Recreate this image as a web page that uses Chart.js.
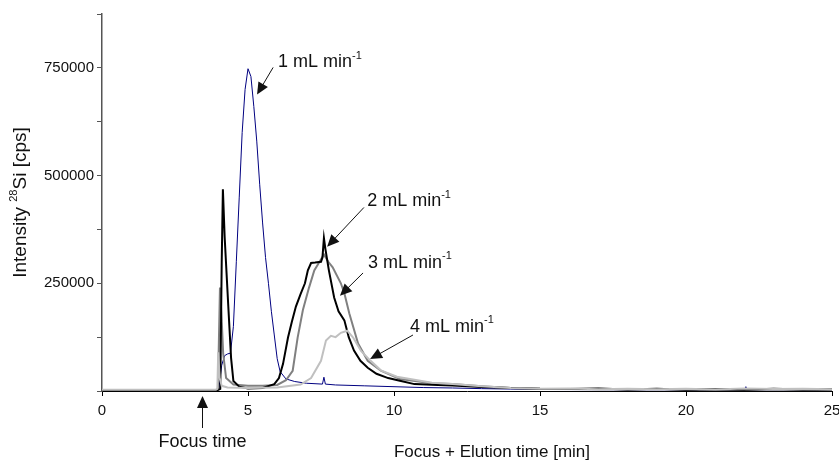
<!DOCTYPE html>
<html>
<head>
<meta charset="utf-8">
<script src="https://cdn.jsdelivr.net/npm/chart.js@4/dist/chart.umd.min.js"></script>
<style>
  html, body { margin: 0; padding: 0; background: #fff; }
  #wrap { width: 839px; height: 461px; position: relative; }
</style>
</head>
<body>
<div id="wrap"><canvas id="chart"></canvas></div>
<script>
// elution times [min] and 28Si intensity [cps]
let time1 = [0, 3.9, 4.0, 4.1, 4.2, 4.3, 4.4, 4.5, 4.6, 4.7, 4.8, 4.9, 5.0, 5.1, 5.2, 5.3, 5.4, 5.5, 5.6, 5.7, 5.8, 5.9, 6.0, 6.1, 6.3, 6.6, 7.0, 7.55, 7.6, 7.65, 8, 9, 10, 11, 12, 13, 14, 15, 18, 20, 22, 22.05, 22.1, 25];
let flow1 = [1000, 1000, 5000, 60000, 82000, 86000, 88000, 150000, 300000, 450000, 600000, 700000, 748000, 730000, 660000, 580000, 480000, 390000, 310000, 250000, 185000, 130000, 75000, 45000, 28000, 22000, 18000, 16000, 32000, 16000, 14000, 12000, 10000, 8000, 7000, 5500, 4500, 3500, 3000, 3000, 3000, 10000, 3000, 3000];

let time2 = [0, 3.9, 4.05, 4.1, 4.14, 4.2, 4.32, 4.42, 4.5, 4.7, 5.0, 5.5, 5.9, 6.06, 6.2, 6.37, 6.5, 6.64, 6.8, 6.95, 7.05, 7.16, 7.3, 7.5, 7.55, 7.6, 7.65, 7.77, 7.95, 8.1, 8.3, 8.45, 8.63, 8.85, 9.1, 9.4, 9.8, 10.2, 10.7, 11.5, 12, 13, 14, 15, 16, 17, 18, 19, 20, 21, 22, 23, 24, 25];
let flow2 = [0, 0, 5000, 300000, 468000, 358000, 203000, 77000, 23000, 10000, 6000, 7000, 16000, 30000, 63000, 124000, 160000, 196000, 225000, 250000, 280000, 297000, 298000, 300000, 310000, 355000, 330000, 280000, 217000, 185000, 164000, 125000, 94000, 70000, 54000, 40000, 30000, 24000, 16000, 14000, 13000, 9000, 7000, 5000, 4500, 6000, 3500, 5000, 3000, 4000, 3000, 5000, 3500, 4000];

let time3 = [0, 3.9, 3.97, 4.04, 4.1, 4.15, 4.25, 4.5, 5.0, 5.5, 6.0, 6.3, 6.53, 6.7, 6.88, 7.09, 7.27, 7.45, 7.6, 7.75, 7.9, 8.18, 8.3, 8.47, 8.77, 9.1, 9.55, 10.2, 11.3, 12, 13, 14, 15, 17, 20, 22, 25];
let flow3 = [0, 0, 5000, 240000, 164000, 87000, 30000, 15000, 12000, 12000, 14000, 25000, 47000, 124000, 188000, 240000, 280000, 300000, 317000, 300000, 287000, 250000, 227000, 180000, 110000, 70000, 47000, 28000, 18000, 16000, 11000, 7000, 5000, 4000, 4000, 3500, 3000];

let time4 = [0, 3.9, 3.95, 3.98, 4.03, 4.1, 4.3, 5.0, 6.0, 6.8, 7.16, 7.5, 7.67, 7.84, 8.0, 8.18, 8.4, 8.6, 8.87, 9.2, 9.55, 10.1, 11.3, 12, 13, 14, 15, 16, 17, 18, 19, 20, 21, 22, 23, 24, 25];
let flow4 = [3000, 3000, 5000, 90000, 30000, 12000, 8000, 7000, 8000, 15000, 30000, 70000, 117000, 128000, 125000, 135000, 140000, 124000, 93000, 70000, 48000, 33000, 19000, 16000, 11000, 7000, 5000, 6000, 4000, 5500, 4000, 5000, 3500, 6000, 4500, 5500, 4000];

let yTickLabels = [250000, 500000, 750000];

// arrow notes: text anchor, arrow tail, arrow head (data units)
let notes = [
    { text: "1 mL min", sup: "-1", at: [6.03, 763000], from: [5.86, 751000], to: [5.31, 688000] },
    { text: "2 mL min", sup: "-1", at: [9.08, 440000], from: [8.97, 426000], to: [7.71, 335000] },
    { text: "3 mL min", sup: "-1", at: [9.11, 298000], from: [8.94, 274000], to: [8.15, 221000] },
    { text: "4 mL min", sup: "-1", at: [10.55, 149000], from: [10.65, 130000], to: [9.18, 74000] }
];
let focusTime = 3.42;

const FONT = "'Liberation Sans', Arial, Helvetica, sans-serif";

function pts(t, v) {
    return t.map((x, i) => ({ x: x, y: v[i] }));
}

function drawSupText(ctx, x, y, parts, size) {
    // parts: [[text, isSup], ...]
    parts.forEach(p => {
        let s = p[1] ? Math.round(size * 0.6) : size;
        ctx.font = s + "px " + FONT;
        ctx.fillText(p[0], x, p[1] ? y - size * 0.36 : y);
        x += ctx.measureText(p[0]).width;
    });
    return x;
}

function partsWidth(ctx, parts, size) {
    let w = 0;
    parts.forEach(p => {
        let s = p[1] ? Math.round(size * 0.6) : size;
        ctx.font = s + "px " + FONT;
        w += ctx.measureText(p[0]).width;
    });
    return w;
}

function arrow(ctx, x1, y1, x2, y2) {
    let a = Math.atan2(y2 - y1, x2 - x1);
    let len = 12, half = 5.5;
    ctx.beginPath();
    ctx.moveTo(x1, y1);
    ctx.lineTo(x2 - Math.cos(a) * len * 0.8, y2 - Math.sin(a) * len * 0.8);
    ctx.stroke();
    ctx.beginPath();
    ctx.moveTo(x2, y2);
    ctx.lineTo(x2 - Math.cos(a) * len - Math.sin(a) * half, y2 - Math.sin(a) * len + Math.cos(a) * half);
    ctx.lineTo(x2 - Math.cos(a) * len + Math.sin(a) * half, y2 - Math.sin(a) * len - Math.cos(a) * half);
    ctx.closePath();
    ctx.fill();
}

const notesPlugin = {
    id: "notes",
    afterDraw(chart) {
        let ctx = chart.ctx;
        let xs = chart.scales.x, ys = chart.scales.y;
        let area = chart.chartArea;
        ctx.save();
        ctx.fillStyle = "#111";
        ctx.strokeStyle = "#111";
        ctx.lineWidth = 1;
        ctx.textBaseline = "middle";
        ctx.textAlign = "left";

        notes.forEach(n => {
            drawSupText(ctx, xs.getPixelForValue(n.at[0]), ys.getPixelForValue(n.at[1]),
                [[n.text, false], [n.sup, true]], 18);
            arrow(ctx, xs.getPixelForValue(n.from[0]), ys.getPixelForValue(n.from[1]),
                xs.getPixelForValue(n.to[0]), ys.getPixelForValue(n.to[1]));
        });

        // focus time marker below the axis
        let fx = Math.round(xs.getPixelForValue(focusTime)) + 0.5;
        arrow(ctx, fx, area.bottom + 37, fx, area.bottom + 5);
        ctx.font = "18px " + FONT;
        ctx.textAlign = "center";
        ctx.fillText("Focus time", fx, area.bottom + 51);

        // axis titles
        ctx.font = "17px " + FONT;
        ctx.fillText("Focus + Elution time [min]", (area.left + area.right) / 2 + 25, area.bottom + 61);

        let yParts = [["Intensity ", false], ["28", true], ["Si [cps]", false]];
        ctx.translate(21, (area.top + area.bottom) / 2);
        ctx.rotate(-Math.PI / 2);
        ctx.textAlign = "left";
        let w = partsWidth(ctx, yParts, 19);
        drawSupText(ctx, -w / 2, 0, yParts, 19);
        ctx.restore();
    }
};

let ctx = document.getElementById("chart").getContext("2d");
let chart = new Chart(ctx, {
    type: "scatter",
    data: {
        datasets: [
            { label: "4 mL/min", data: pts(time4, flow4), borderColor: "#c0c0c0", borderWidth: 2 },
            { label: "2 mL/min", data: pts(time2, flow2), borderColor: "#000000", borderWidth: 2 },
            { label: "3 mL/min", data: pts(time3, flow3), borderColor: "#808080", borderWidth: 2 },
            { label: "1 mL/min", data: pts(time1, flow1), borderColor: "#000080", borderWidth: 1 }
        ].map(d => Object.assign(d, { showLine: true, pointRadius: 0, tension: 0, fill: false }))
    },
    options: {
        responsive: true,
        maintainAspectRatio: false,
        animation: false,
        layout: { padding: { top: 14, right: 7, left: 0, bottom: 0 } },
        plugins: {
            legend: { display: false },
            tooltip: { enabled: false }
        },
        scales: {
            x: {
                type: "linear",
                min: 0,
                max: 25,
                afterFit: s => { s.height = 70; s.paddingLeft = 0; s.paddingRight = 0; },
                border: { color: "#000", width: 1 },
                grid: { drawOnChartArea: false, drawTicks: true, tickLength: 5, color: "#000" },
                ticks: { stepSize: 5, maxRotation: 0, padding: 6, color: "#111", font: { family: FONT, size: 15 } }
            },
            y: {
                min: 0,
                max: 875000,
                afterFit: s => { s.width = 102; s.paddingTop = 0; s.paddingBottom = 0; },
                border: { color: "#555", width: 1.5 },
                grid: { drawOnChartArea: false, drawTicks: true, tickLength: 5, color: "#555" },
                ticks: {
                    stepSize: 125000,
                    padding: 3,
                    color: "#111",
                    font: { family: FONT, size: 15 },
                    callback: v => yTickLabels.includes(v) ? String(v) : ""
                }
            }
        }
    },
    plugins: [notesPlugin]
});
</script>
</body>
</html>
